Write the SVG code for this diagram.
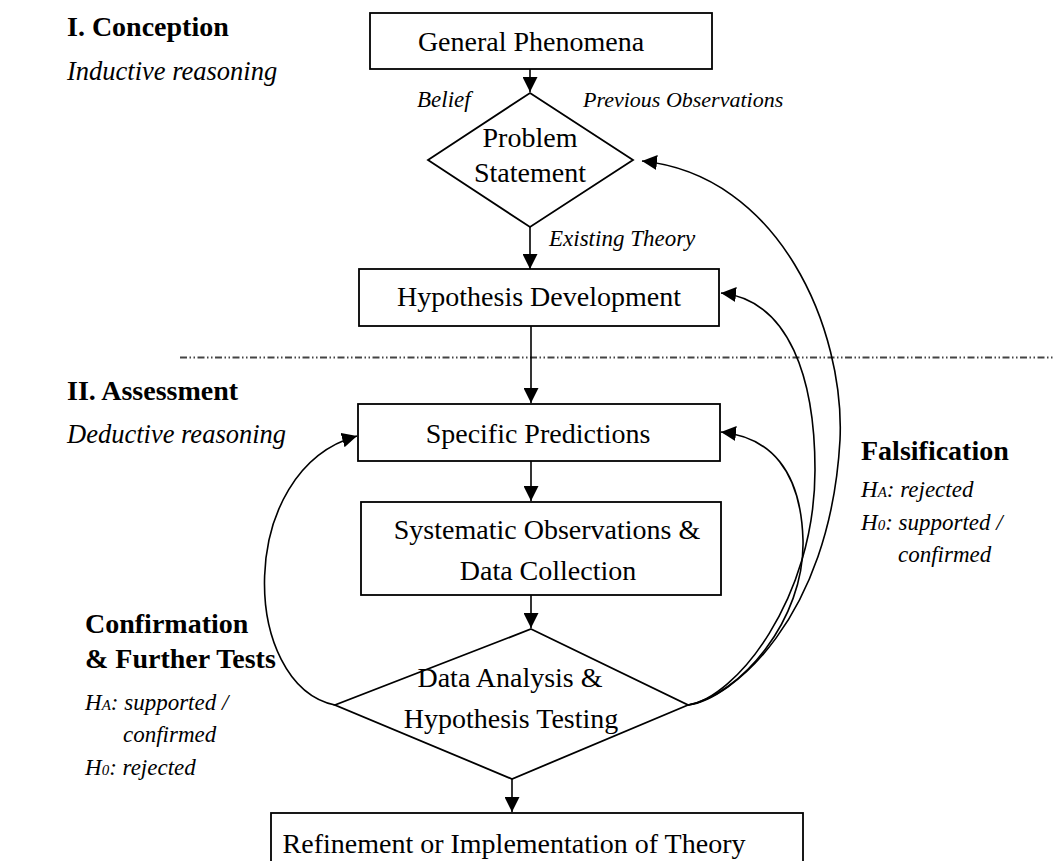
<svg xmlns="http://www.w3.org/2000/svg" width="1054" height="861" viewBox="0 0 1054 861">
<style>
.box{fill:#fff;stroke:#000;stroke-width:1.8}
.node{font-family:"Liberation Serif",serif;font-size:28px;fill:#000}
.hd{font-family:"Liberation Serif",serif;font-size:28px;font-weight:bold;fill:#000}
.it{font-family:"Liberation Serif",serif;font-size:26.5px;font-style:italic;fill:#000}
.lb{font-family:"Liberation Serif",serif;font-size:23px;font-style:italic;fill:#000}
.sm{font-size:15px}
.con{fill:none;stroke:#000;stroke-width:1.6}
</style>
<defs>
<marker id="ah" markerUnits="userSpaceOnUse" markerWidth="15" markerHeight="15" viewBox="0 0 15 15" refX="15" refY="7.5" orient="auto">
<path d="M0,0 L15,7.5 L0,15 z" fill="#000"/>
</marker>
</defs>
<rect width="1054" height="861" fill="#fff"/>

<g id="divider">
<line x1="180" y1="357.5" x2="1054" y2="357.5" stroke="#444" stroke-width="1.8" stroke-dasharray="7 2.5 1.5 2.5 1.5 2.5"/>
</g>

<g id="connectors">
<line class="con" x1="530" y1="69" x2="530" y2="92" marker-end="url(#ah)"/>
<line class="con" x1="530" y1="227" x2="530" y2="269" marker-end="url(#ah)"/>
<line class="con" x1="531" y1="326" x2="531" y2="403" marker-end="url(#ah)"/>
<line class="con" x1="531" y1="461" x2="531" y2="501" marker-end="url(#ah)"/>
<line class="con" x1="531" y1="595" x2="531" y2="628" marker-end="url(#ah)"/>
<line class="con" x1="512" y1="779" x2="512" y2="812" marker-end="url(#ah)"/>
<path class="con" d="M335,705 C240,685 235,470 357,436" marker-end="url(#ah)"/>
<path class="con" d="M688,705 C740,695 805,620 803,540 C801,470 770,437 721,432" marker-end="url(#ah)"/>
<path class="con" d="M688,705 C735,698 815,600 815,470 C815,380 790,300 721,293" marker-end="url(#ah)"/>
<path class="con" d="M688,705 C730,700 830,620 840,440 C845,330 780,175 642,161" marker-end="url(#ah)"/>
</g>

<g id="general-phenomena">
<rect class="box" x="370" y="13" width="342" height="56"/>
<text class="node" x="531" y="51" text-anchor="middle">General Phenomena</text>
</g>

<g id="problem-statement">
<polygon class="box" points="530,93 633,160 530,227 428,160"/>
<text class="node" x="530" y="147" text-anchor="middle">Problem</text>
<text class="node" x="530" y="182" text-anchor="middle">Statement</text>
</g>

<g id="hypothesis-development">
<rect class="box" x="359" y="269" width="360" height="57"/>
<text class="node" x="539" y="306" text-anchor="middle">Hypothesis Development</text>
</g>

<g id="specific-predictions">
<rect class="box" x="358" y="404" width="362" height="57"/>
<text class="node" x="538" y="443" text-anchor="middle">Specific Predictions</text>
</g>

<g id="systematic-observations">
<rect class="box" x="361" y="502" width="360" height="93"/>
<text class="node" x="547" y="539" text-anchor="middle">Systematic Observations &amp;</text>
<text class="node" x="548" y="580" text-anchor="middle">Data Collection</text>
</g>

<g id="data-analysis">
<polygon class="box" points="531,629 688,705 512,779 335,705"/>
<text class="node" x="510" y="687" text-anchor="middle">Data Analysis &amp;</text>
<text class="node" x="511" y="728" text-anchor="middle">Hypothesis Testing</text>
</g>

<g id="refinement">
<rect class="box" x="271" y="813" width="532" height="70"/>
<text class="node" x="514" y="853" text-anchor="middle">Refinement or Implementation of Theory</text>
</g>

<g id="labels">
<text class="hd" x="67" y="36">I. Conception</text>
<text class="it" x="67" y="80">Inductive reasoning</text>
<text class="lb" x="417" y="107">Belief</text>
<text class="lb" x="583" y="107" style="font-size:22px">Previous Observations</text>
<text class="lb" x="549" y="246">Existing Theory</text>
<text class="hd" x="67" y="400">II. Assessment</text>
<text class="it" x="67" y="443">Deductive reasoning</text>
<text class="hd" x="861" y="460">Falsification</text>
<text class="lb" x="861" y="497">H<tspan class="sm">A</tspan>: rejected</text>
<text class="lb" x="861" y="530">H<tspan class="sm">0</tspan>: supported /</text>
<text class="lb" x="898" y="562">confirmed</text>
<text class="hd" x="85" y="633">Confirmation</text>
<text class="hd" x="85" y="668">&amp; Further Tests</text>
<text class="lb" x="85" y="710">H<tspan class="sm">A</tspan>: supported /</text>
<text class="lb" x="123" y="742">confirmed</text>
<text class="lb" x="85" y="775">H<tspan class="sm">0</tspan>: rejected</text>
</g>
</svg>
